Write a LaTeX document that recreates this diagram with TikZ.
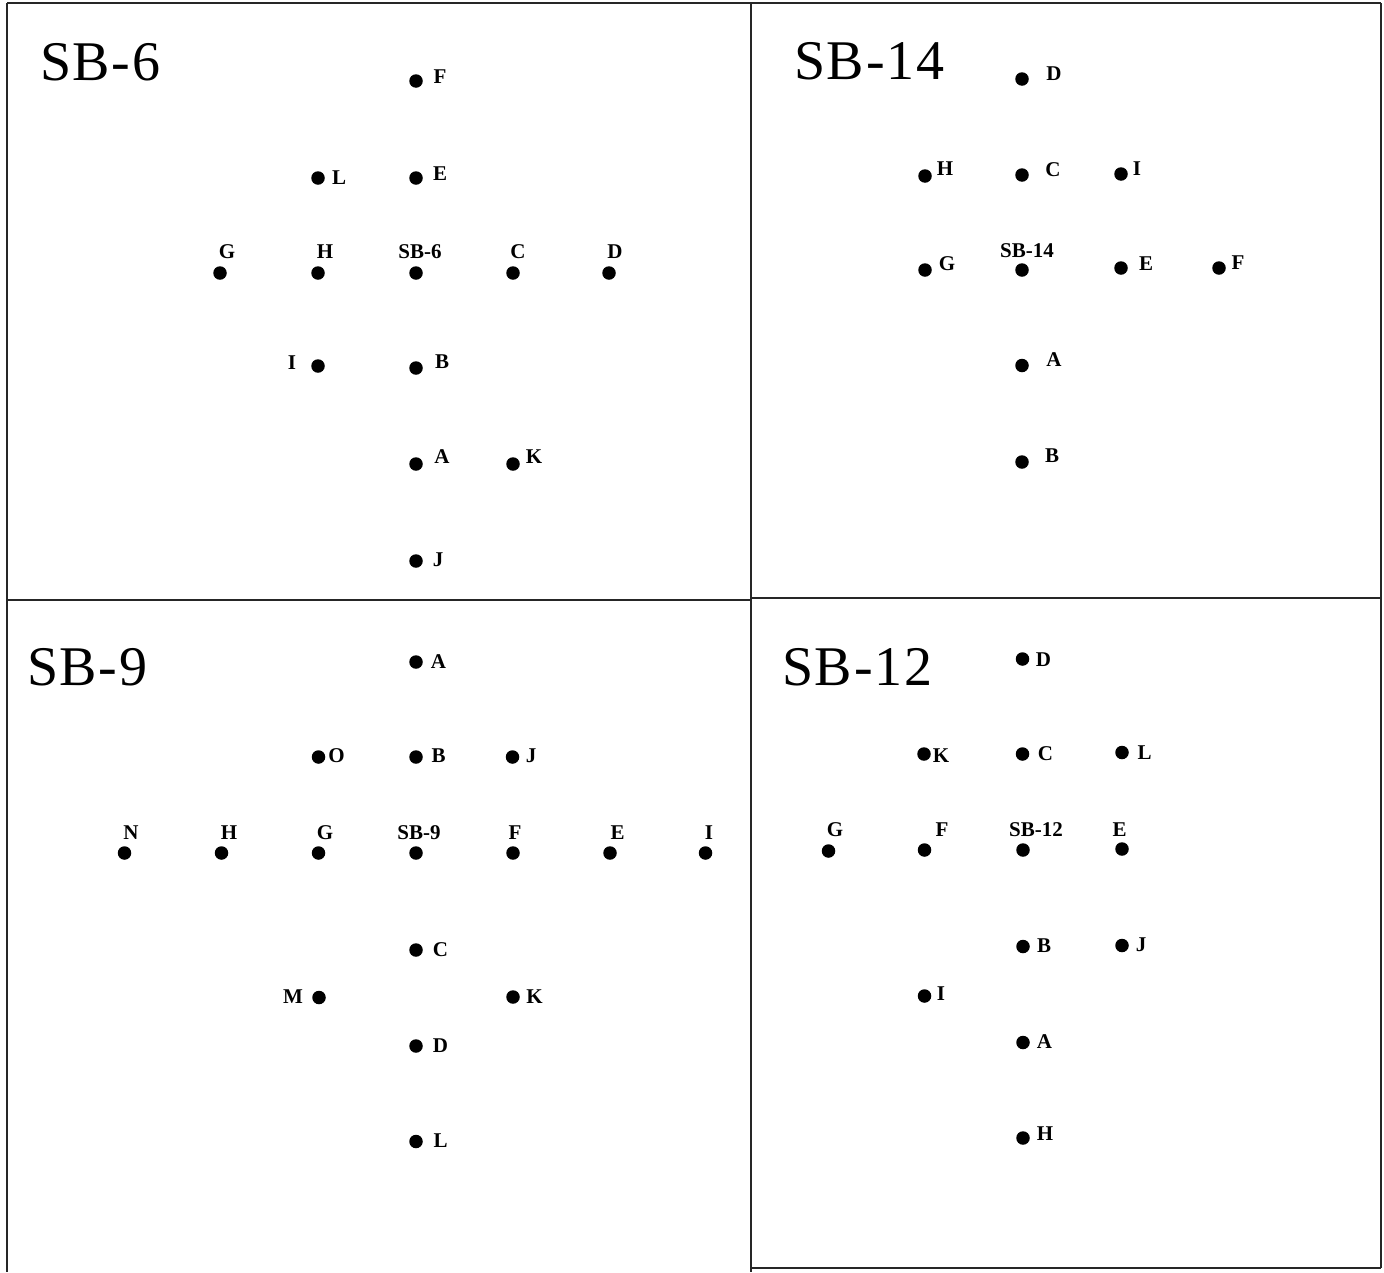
\documentclass[tikz,border=0pt]{standalone}
\usepackage{fontspec}
\setmainfont{Liberation Serif}
\newfontfamily\ttlfont[LetterSpace=3]{Liberation Serif}
\tikzset{
  dot/.style={circle, fill=black, inner sep=0pt, minimum size=13.5pt},
  lab/.style={inner sep=0pt, font=\fontsize{21}{22}\selectfont\bfseries},
  ttl/.style={inner sep=0pt, anchor=base west, font=\ttlfont\fontsize{56}{60}\selectfont},
  frame/.style={line width=1.4pt, draw=black!85}
}
\newcommand\mkspot[6]{\node[dot] (#1) at (#2,#3) {};\node[lab] (#1l) at (#5,#6) {#4};}
\begin{document}
\begin{tikzpicture}[x=1pt,y=-1pt]
\useasboundingbox (0,0) rectangle (1384,1272);
% frames
\draw[frame] (7,3) -- (1381,3);
\draw[frame] (7,3) -- (7,1272);
\draw[frame] (1381,3) -- (1381,1268);
\draw[frame] (751,3) -- (751,1272);
\draw[frame] (7,600) -- (751,600);
\draw[frame] (751,598) -- (1381,598);
\draw[frame] (751,1268) -- (1381,1268);
% titles
\node[ttl] (t6) at (40,80) {SB-6};
\node[ttl] (t14) at (794,79) {SB-14};
\node[ttl] (t9) at (27,685) {SB-9};
\node[ttl] (t12) at (782,685) {SB-12};
% ---- SB-6 ----
\mkspot{aF}{416}{81}{F}{440}{76.5}
\mkspot{aL}{318}{178}{L}{339}{177.5}
\mkspot{aE}{416}{178}{E}{440}{173.5}
\mkspot{aG}{220}{273}{G}{227}{252}
\mkspot{aH}{318}{273}{H}{325}{252}
\mkspot{aS}{416}{273}{SB-6}{420}{252}
\mkspot{aC}{513}{273}{C}{518}{252}
\mkspot{aD}{609}{273}{D}{615}{252}
\mkspot{aI}{318}{366}{I}{292}{363}
\mkspot{aB}{416}{368}{B}{442}{362}
\mkspot{aA}{416}{464}{A}{442}{457}
\mkspot{aK}{513}{464}{K}{534}{457}
\mkspot{aJ}{416}{561}{J}{438}{560}
% ---- SB-14 ----
\mkspot{bD}{1022}{79}{D}{1054}{74}
\mkspot{bH}{925}{176}{H}{945}{168.5}
\mkspot{bC}{1022}{175}{C}{1053}{170}
\mkspot{bI}{1121}{174}{I}{1137}{169}
\mkspot{bG}{925}{270}{G}{947}{264}
\mkspot{bS}{1022}{270}{SB-14}{1027}{250.5}
\mkspot{bE}{1121}{268}{E}{1146}{263.5}
\mkspot{bF}{1219}{268}{F}{1238}{263}
\mkspot{bA}{1022}{365.5}{A}{1054}{359.5}
\mkspot{bB}{1022}{462}{B}{1052}{455.5}
% ---- SB-9 ----
\mkspot{cA}{416}{662}{A}{438.5}{662}
\mkspot{cO}{318.5}{757}{O}{336.5}{756}
\mkspot{cB}{416}{757}{B}{438.5}{756}
\mkspot{cJ}{512.5}{757}{J}{531}{756}
\mkspot{cN}{124.5}{853}{N}{131}{833}
\mkspot{cH}{221.5}{853}{H}{229}{833}
\mkspot{cG}{318.5}{853}{G}{325}{833}
\mkspot{cS}{416}{853}{SB-9}{419}{833}
\mkspot{cF}{513}{853}{F}{515}{833}
\mkspot{cE}{610}{853}{E}{617.5}{833}
\mkspot{cI}{705.5}{853}{I}{709}{833}
\mkspot{cC}{416}{950}{C}{440.5}{950}
\mkspot{cM}{319}{997.5}{M}{293}{997}
\mkspot{cK}{513}{997}{K}{534.5}{997}
\mkspot{cD}{416}{1046}{D}{440.5}{1045.5}
\mkspot{cL}{416}{1141.5}{L}{440.5}{1140.5}
% ---- SB-12 ----
\mkspot{dD}{1022.5}{659}{D}{1043.5}{660}
\mkspot{dK}{924}{754}{K}{941}{755.5}
\mkspot{dC}{1022.5}{754}{C}{1045.5}{754}
\mkspot{dL}{1122}{752.5}{L}{1144.5}{752.5}
\mkspot{dG}{828.5}{851}{G}{835}{830}
\mkspot{dF}{924.5}{850}{F}{942}{830}
\mkspot{dS}{1023}{850}{SB-12}{1036}{830}
\mkspot{dE}{1122}{849}{E}{1119.5}{830}
\mkspot{dB}{1023}{946.5}{B}{1044}{945.5}
\mkspot{dJ}{1122}{945.5}{J}{1141}{944.5}
\mkspot{dI}{924.5}{996}{I}{941}{994}
\mkspot{dA}{1023}{1042.5}{A}{1044.5}{1041.5}
\mkspot{dH}{1023}{1138}{H}{1045}{1133.5}
\end{tikzpicture}
\end{document}
